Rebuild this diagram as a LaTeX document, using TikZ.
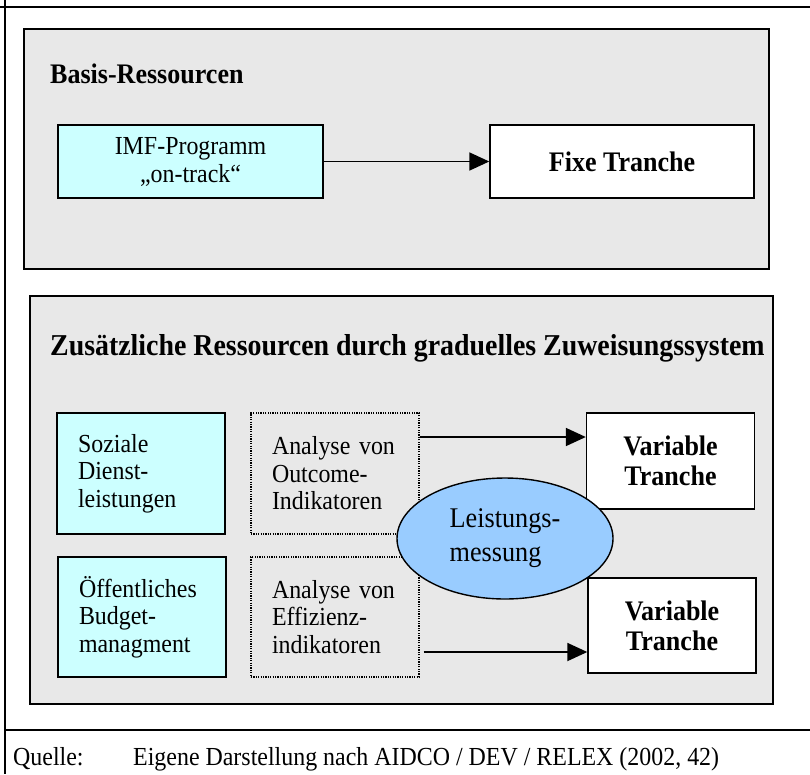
\documentclass[tikz,border=0pt]{standalone}
\usepackage{fontspec}
\setmainfont{Liberation Serif}[FakeStretch=0.92]
\usetikzlibrary{arrows.meta,shapes.geometric}

\definecolor{hellgrau}{HTML}{E8E8E8}
\definecolor{hellcyan}{HTML}{CCFFFF}
\definecolor{hellblau}{HTML}{99CCFF}

\begin{document}
\begin{tikzpicture}[x=1pt,y=-1pt,
            rahmen/.style={line width=2pt},
            feld/.style={draw,line width=1.6pt,fill=hellgrau},
            kasten/.style={draw,line width=1.4pt,inner sep=0pt,minimum width=168pt},
            ressource/.style={kasten,fill=hellcyan},
            analyse/.style={kasten,line width=1.3pt,dash pattern=on 1.2pt off 1.2pt},
            tranche/.style={kasten,fill=white,align=center,font=\fontsize{28.3}{30}\selectfont\bfseries},
            links/.style={align=left,text width=126pt,inner xsep=21pt,font=\fontsize{26}{27.5}\selectfont},
            schrift/.style={inner sep=0pt,anchor=base west},
            pfeil/.style={line width=1.8pt,-{Triangle[length=20pt,width=18pt]}}]

            \useasboundingbox (0,0) rectangle (810,774);

            % Rahmen
            \draw[rahmen] (0,7) -- (810,7);
            \draw[rahmen] (5,0) -- (5,774);
            \draw[rahmen] (5,730) -- (810,730);

            % Basis-Ressourcen
            \draw[feld] (24,29) rectangle (769,269);
            \node[schrift, font=\fontsize{28.3}{30}\selectfont\bfseries] (basis) at (50,83) {Basis-Ressourcen};
            \node[ressource, minimum width=265pt, minimum height=73pt, align=center, font=\fontsize{26}{28}\selectfont] (imf) at (190.5,161.5) {IMF-Programm\\„on-track“};
            \node[tranche, minimum width=264pt, minimum height=73pt] (fixe) at (622,161.5) {Fixe Tranche};
            \draw[pfeil] (imf) -- (fixe);

            % Zusaetzliche Ressourcen
            \draw[feld] (30,296) rectangle (773,704);
            \node[schrift, font=\fontsize{30.3}{32}\selectfont\bfseries] (zusatz) at (50,355) {Zusätzliche Ressourcen durch graduelles Zuweisungssystem};

            \node[ressource, links, minimum height=121pt] (sozial) at (141,473.5) {Soziale\\Dienst-\\leistungen};
            \node[analyse, links, minimum height=121pt] (outcome) at (335,473.5) {Analyse von\\Outcome-\\Indikatoren};
            \node[tranche, minimum height=96pt] (var1) at (670.5,461) {Variable\\Tranche};

            \node[ressource, links, minimum height=120pt] (budget) at (142,617) {Öffentliches\\Budget-\\managment};
            \node[analyse, links, minimum height=120pt] (effizienz) at (335,617) {Analyse von\\Effizienz-\\indikatoren};
            \node[tranche, minimum height=95pt] (var2) at (672,625.5) {Variable\\Tranche};

            \coordinate (hoehe1) at (0,437);
            \coordinate (hoehe2) at (0,652);
            \draw[pfeil] (outcome.east |- hoehe1) -- (var1.west |- hoehe1);
            \draw[pfeil] ([xshift=4pt]effizienz.east |- hoehe2) -- (var2.west |- hoehe2);

            \node[ellipse, draw, line width=1.4pt, fill=hellblau, minimum width=216pt, minimum height=121pt, align=left, font=\fontsize{28.5}{34}\selectfont] (messung) at (505,538.5) {Leistungs-\\messung};

            % Quelle
            \node[schrift, font=\fontsize{26}{28}\selectfont] (quelle) at (13,765) {Quelle:};
            \node[schrift, font=\fontsize{26}{28}\selectfont] (nach) at (133,765) {Eigene Darstellung nach AIDCO / DEV / RELEX (2002, 42)};

\end{tikzpicture}
\end{document}
